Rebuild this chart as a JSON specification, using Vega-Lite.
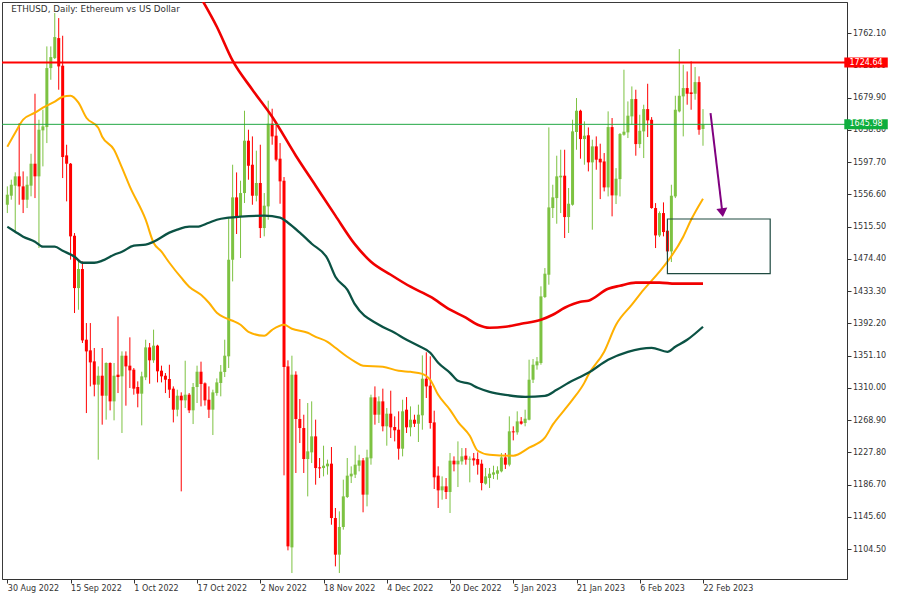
{
  "$schema": "https://vega.github.io/schema/vega-lite/v6.json",
  "width": 845,
  "height": 577,
  "autosize": {"type": "none"},
  "padding": {"left": 2, "top": 2, "right": 53, "bottom": 21},
  "background": "white",
  "config": {"view": {"stroke": "#3a3a3a", "strokeWidth": 1}, "font": "DejaVu Sans", "axis": {"labelOverlap": false, "labelBound": false, "labelFlush": false}},
  "resolve": {"axis": {"x": "independent", "y": "independent"}},
  "datasets": {
    "title": [
      {"text": "ETHUSD, Daily:  Ethereum vs US Dollar"}
    ],
    "candles": [
      {"date":"2022-08-30","open":1543.5,"high":1566.9,"low":1532.9,"close":1556.3},
      {"date":"2022-08-31","open":1555.0,"high":1575.4,"low":1549.9,"close":1569.0},
      {"date":"2022-09-01","open":1567.8,"high":1584.8,"low":1507.4,"close":1579.7},
      {"date":"2022-09-02","open":1579.7,"high":1647.6,"low":1543.5,"close":1566.9},
      {"date":"2022-09-03","open":1566.9,"high":1586.0,"low":1532.9,"close":1549.9},
      {"date":"2022-09-04","open":1549.9,"high":1579.7,"low":1539.3,"close":1569.0},
      {"date":"2022-09-05","open":1567.8,"high":1608.5,"low":1554.2,"close":1595.8},
      {"date":"2022-09-06","open":1595.8,"high":1685.0,"low":1552.0,"close":1579.7},
      {"date":"2022-09-07","open":1579.7,"high":1651.9,"low":1488.3,"close":1639.1},
      {"date":"2022-09-08","open":1638.3,"high":1664.6,"low":1592.4,"close":1643.4},
      {"date":"2022-09-09","open":1642.5,"high":1745.3,"low":1622.1,"close":1717.7},
      {"date":"2022-09-10","open":1717.7,"high":1745.3,"low":1702.8,"close":1731.7},
      {"date":"2022-09-11","open":1730.4,"high":1787.8,"low":1729.2,"close":1757.2},
      {"date":"2022-09-12","open":1755.9,"high":1781.4,"low":1690.1,"close":1719.8},
      {"date":"2022-09-13","open":1720.7,"high":1758.9,"low":1577.5,"close":1604.3},
      {"date":"2022-09-14","open":1606.4,"high":1620.0,"low":1547.8,"close":1595.8},
      {"date":"2022-09-15","open":1595.8,"high":1596.7,"low":1473.5,"close":1503.2},
      {"date":"2022-09-16","open":1504.0,"high":1507.4,"low":1405.5,"close":1437.3},
      {"date":"2022-09-17","open":1437.3,"high":1473.5,"low":1409.7,"close":1461.6},
      {"date":"2022-09-18","open":1461.6,"high":1471.3,"low":1367.3,"close":1370.6},
      {"date":"2022-09-19","open":1371.5,"high":1392.7,"low":1278.0,"close":1356.6},
      {"date":"2022-09-20","open":1357.9,"high":1392.7,"low":1312.0,"close":1342.6},
      {"date":"2022-09-21","open":1343.9,"high":1360.9,"low":1299.3,"close":1314.2},
      {"date":"2022-09-22","open":1314.2,"high":1337.5,"low":1218.6,"close":1325.6},
      {"date":"2022-09-23","open":1325.6,"high":1360.9,"low":1263.2,"close":1300.1},
      {"date":"2022-09-24","open":1300.1,"high":1342.6,"low":1269.6,"close":1341.8},
      {"date":"2022-09-25","open":1341.8,"high":1342.6,"low":1281.4,"close":1292.9},
      {"date":"2022-09-26","open":1292.9,"high":1341.8,"low":1268.7,"close":1325.6},
      {"date":"2022-09-27","open":1326.9,"high":1401.2,"low":1303.5,"close":1323.9},
      {"date":"2022-09-28","open":1324.8,"high":1356.6,"low":1252.6,"close":1351.1},
      {"date":"2022-09-29","open":1351.1,"high":1356.6,"low":1287.4,"close":1337.5},
      {"date":"2022-09-30","open":1338.4,"high":1374.5,"low":1309.9,"close":1332.4},
      {"date":"2022-10-01","open":1333.3,"high":1335.4,"low":1301.4,"close":1309.1},
      {"date":"2022-10-02","open":1311.2,"high":1318.4,"low":1285.3,"close":1302.7},
      {"date":"2022-10-03","open":1302.7,"high":1330.7,"low":1262.3,"close":1324.8},
      {"date":"2022-10-04","open":1323.5,"high":1371.5,"low":1320.0,"close":1361.7},
      {"date":"2022-10-05","open":1361.7,"high":1367.3,"low":1315.4,"close":1345.2},
      {"date":"2022-10-06","open":1345.2,"high":1384.3,"low":1342.0,"close":1363.9},
      {"date":"2022-10-07","open":1363.9,"high":1365.0,"low":1317.1,"close":1331.2},
      {"date":"2022-10-08","open":1332.0,"high":1338.4,"low":1317.1,"close":1324.8},
      {"date":"2022-10-09","open":1325.6,"high":1329.0,"low":1303.5,"close":1320.5},
      {"date":"2022-10-10","open":1321.4,"high":1339.6,"low":1297.2,"close":1307.8},
      {"date":"2022-10-11","open":1309.1,"high":1312.0,"low":1266.1,"close":1282.3},
      {"date":"2022-10-12","open":1282.3,"high":1307.8,"low":1273.8,"close":1300.1},
      {"date":"2022-10-13","open":1300.1,"high":1304.4,"low":1178.2,"close":1294.2},
      {"date":"2022-10-14","open":1294.2,"high":1344.7,"low":1284.4,"close":1301.4},
      {"date":"2022-10-15","open":1301.4,"high":1303.5,"low":1278.0,"close":1281.5},
      {"date":"2022-10-16","open":1281.5,"high":1316.3,"low":1264.0,"close":1311.2},
      {"date":"2022-10-17","open":1311.2,"high":1338.4,"low":1290.8,"close":1330.7},
      {"date":"2022-10-18","open":1330.7,"high":1343.5,"low":1286.5,"close":1315.0},
      {"date":"2022-10-19","open":1315.9,"high":1317.1,"low":1287.4,"close":1294.2},
      {"date":"2022-10-20","open":1295.0,"high":1312.0,"low":1271.7,"close":1282.3},
      {"date":"2022-10-21","open":1282.3,"high":1307.8,"low":1250.0,"close":1304.4},
      {"date":"2022-10-22","open":1303.5,"high":1322.2,"low":1300.1,"close":1317.1},
      {"date":"2022-10-23","open":1316.3,"high":1339.2,"low":1299.3,"close":1330.7},
      {"date":"2022-10-24","open":1330.3,"high":1371.5,"low":1323.9,"close":1351.1},
      {"date":"2022-10-25","open":1350.3,"high":1526.6,"low":1335.4,"close":1473.4},
      {"date":"2022-10-26","open":1473.4,"high":1594.5,"low":1445.8,"close":1552.9},
      {"date":"2022-10-27","open":1552.9,"high":1584.7,"low":1506.2,"close":1528.7},
      {"date":"2022-10-28","open":1528.7,"high":1574.1,"low":1475.6,"close":1558.4},
      {"date":"2022-10-29","open":1558.4,"high":1663.3,"low":1545.7,"close":1625.1},
      {"date":"2022-10-30","open":1625.1,"high":1639.1,"low":1575.4,"close":1593.2},
      {"date":"2022-10-31","open":1594.5,"high":1630.6,"low":1543.5,"close":1555.0},
      {"date":"2022-11-01","open":1555.0,"high":1612.4,"low":1547.8,"close":1571.2},
      {"date":"2022-11-02","open":1571.2,"high":1620.0,"low":1501.1,"close":1513.8},
      {"date":"2022-11-03","open":1513.8,"high":1558.4,"low":1503.2,"close":1542.3},
      {"date":"2022-11-04","open":1541.4,"high":1676.1,"low":1524.4,"close":1646.8},
      {"date":"2022-11-05","open":1646.8,"high":1665.9,"low":1620.0,"close":1630.6},
      {"date":"2022-11-06","open":1631.5,"high":1645.5,"low":1598.8,"close":1600.9},
      {"date":"2022-11-07","open":1602.2,"high":1622.1,"low":1544.8,"close":1573.3},
      {"date":"2022-11-08","open":1574.1,"high":1578.8,"low":1198.6,"close":1336.7},
      {"date":"2022-11-09","open":1337.5,"high":1345.2,"low":1103.0,"close":1108.1},
      {"date":"2022-11-10","open":1106.8,"high":1351.1,"low":1074.1,"close":1326.9},
      {"date":"2022-11-11","open":1326.9,"high":1331.2,"low":1201.6,"close":1270.4},
      {"date":"2022-11-12","open":1270.4,"high":1295.9,"low":1239.8,"close":1258.9},
      {"date":"2022-11-13","open":1258.9,"high":1275.9,"low":1201.6,"close":1219.4},
      {"date":"2022-11-14","open":1219.4,"high":1290.8,"low":1171.8,"close":1229.2},
      {"date":"2022-11-15","open":1227.9,"high":1292.9,"low":1214.3,"close":1248.3},
      {"date":"2022-11-16","open":1248.3,"high":1269.6,"low":1186.7,"close":1207.9},
      {"date":"2022-11-17","open":1208.8,"high":1220.7,"low":1195.2,"close":1207.5},
      {"date":"2022-11-18","open":1207.9,"high":1236.4,"low":1197.3,"close":1210.9},
      {"date":"2022-11-19","open":1210.1,"high":1218.6,"low":1199.5,"close":1213.5},
      {"date":"2022-11-20","open":1213.5,"high":1234.7,"low":1135.7,"close":1144.2},
      {"date":"2022-11-21","open":1144.2,"high":1157.0,"low":1082.6,"close":1097.5},
      {"date":"2022-11-22","open":1097.5,"high":1152.7,"low":1074.1,"close":1132.8},
      {"date":"2022-11-23","open":1132.8,"high":1193.1,"low":1129.4,"close":1171.8},
      {"date":"2022-11-24","open":1171.0,"high":1220.7,"low":1169.7,"close":1198.2},
      {"date":"2022-11-25","open":1197.3,"high":1210.1,"low":1188.8,"close":1200.7},
      {"date":"2022-11-26","open":1199.5,"high":1236.4,"low":1195.2,"close":1212.2},
      {"date":"2022-11-27","open":1210.9,"high":1224.9,"low":1203.7,"close":1217.7},
      {"date":"2022-11-28","open":1217.7,"high":1220.7,"low":1151.5,"close":1174.0},
      {"date":"2022-11-29","open":1174.0,"high":1231.3,"low":1159.1,"close":1221.5},
      {"date":"2022-11-30","open":1220.3,"high":1301.4,"low":1212.2,"close":1298.0},
      {"date":"2022-12-01","open":1298.0,"high":1312.0,"low":1263.2,"close":1275.9},
      {"date":"2022-12-02","open":1275.9,"high":1299.3,"low":1265.3,"close":1292.9},
      {"date":"2022-12-03","open":1292.9,"high":1309.1,"low":1254.7,"close":1261.1},
      {"date":"2022-12-04","open":1261.1,"high":1284.4,"low":1236.4,"close":1277.2},
      {"date":"2022-12-05","open":1277.2,"high":1306.5,"low":1246.2,"close":1259.8},
      {"date":"2022-12-06","open":1260.2,"high":1273.8,"low":1241.9,"close":1256.0},
      {"date":"2022-12-07","open":1256.8,"high":1280.2,"low":1218.6,"close":1232.6},
      {"date":"2022-12-08","open":1232.6,"high":1295.0,"low":1222.8,"close":1280.2},
      {"date":"2022-12-09","open":1282.3,"high":1298.4,"low":1252.6,"close":1259.8},
      {"date":"2022-12-10","open":1259.8,"high":1286.5,"low":1248.3,"close":1269.5},
      {"date":"2022-12-11","open":1269.5,"high":1275.9,"low":1260.2,"close":1264.4},
      {"date":"2022-12-12","open":1264.4,"high":1288.7,"low":1241.1,"close":1275.9},
      {"date":"2022-12-13","open":1275.1,"high":1351.5,"low":1256.8,"close":1321.8},
      {"date":"2022-12-14","open":1321.8,"high":1355.4,"low":1297.2,"close":1312.0},
      {"date":"2022-12-15","open":1312.9,"high":1350.3,"low":1258.1,"close":1265.3},
      {"date":"2022-12-16","open":1266.1,"high":1281.0,"low":1181.2,"close":1196.1},
      {"date":"2022-12-17","open":1198.2,"high":1210.1,"low":1157.0,"close":1179.5},
      {"date":"2022-12-18","open":1179.5,"high":1197.3,"low":1167.6,"close":1184.6},
      {"date":"2022-12-19","open":1184.6,"high":1195.2,"low":1168.4,"close":1177.4},
      {"date":"2022-12-20","open":1177.4,"high":1227.1,"low":1150.6,"close":1217.3},
      {"date":"2022-12-21","open":1217.3,"high":1222.8,"low":1203.7,"close":1212.6},
      {"date":"2022-12-22","open":1212.6,"high":1241.9,"low":1183.7,"close":1217.3},
      {"date":"2022-12-23","open":1216.4,"high":1233.4,"low":1212.2,"close":1222.8},
      {"date":"2022-12-24","open":1223.7,"high":1233.4,"low":1212.2,"close":1218.6},
      {"date":"2022-12-25","open":1218.6,"high":1222.8,"low":1189.7,"close":1219.8},
      {"date":"2022-12-26","open":1220.3,"high":1227.1,"low":1210.9,"close":1217.7},
      {"date":"2022-12-27","open":1219.4,"high":1227.9,"low":1199.5,"close":1212.2},
      {"date":"2022-12-28","open":1213.5,"high":1218.6,"low":1179.5,"close":1188.8},
      {"date":"2022-12-29","open":1188.0,"high":1208.0,"low":1186.7,"close":1197.3},
      {"date":"2022-12-30","open":1195.2,"high":1208.0,"low":1182.5,"close":1200.7},
      {"date":"2022-12-31","open":1199.5,"high":1210.9,"low":1193.9,"close":1202.4},
      {"date":"2023-01-01","open":1200.7,"high":1210.1,"low":1193.1,"close":1205.0},
      {"date":"2023-01-02","open":1203.7,"high":1227.1,"low":1202.4,"close":1221.5},
      {"date":"2023-01-03","open":1221.5,"high":1227.1,"low":1206.7,"close":1212.2},
      {"date":"2023-01-04","open":1212.2,"high":1273.8,"low":1210.1,"close":1254.7},
      {"date":"2023-01-05","open":1254.7,"high":1261.1,"low":1243.2,"close":1253.4},
      {"date":"2023-01-06","open":1253.4,"high":1280.2,"low":1250.4,"close":1267.4},
      {"date":"2023-01-07","open":1267.4,"high":1272.9,"low":1263.2,"close":1264.4},
      {"date":"2023-01-08","open":1265.3,"high":1282.3,"low":1261.1,"close":1270.8},
      {"date":"2023-01-09","open":1269.5,"high":1346.0,"low":1268.7,"close":1320.5},
      {"date":"2023-01-10","open":1320.5,"high":1346.9,"low":1316.3,"close":1339.6},
      {"date":"2023-01-11","open":1338.8,"high":1349.4,"low":1333.3,"close":1343.9},
      {"date":"2023-01-12","open":1341.8,"high":1439.5,"low":1339.6,"close":1426.7},
      {"date":"2023-01-13","open":1425.9,"high":1462.8,"low":1424.6,"close":1455.6},
      {"date":"2023-01-14","open":1454.3,"high":1642.1,"low":1441.6,"close":1540.1},
      {"date":"2023-01-15","open":1539.3,"high":1569.0,"low":1526.6,"close":1552.9},
      {"date":"2023-01-16","open":1552.0,"high":1606.0,"low":1519.3,"close":1579.7},
      {"date":"2023-01-17","open":1578.4,"high":1613.6,"low":1532.9,"close":1580.5},
      {"date":"2023-01-18","open":1580.5,"high":1613.6,"low":1501.1,"close":1527.8},
      {"date":"2023-01-19","open":1527.8,"high":1564.8,"low":1507.5,"close":1544.8},
      {"date":"2023-01-20","open":1543.5,"high":1651.9,"low":1542.3,"close":1637.0},
      {"date":"2023-01-21","open":1636.2,"high":1679.5,"low":1613.6,"close":1663.3},
      {"date":"2023-01-22","open":1663.3,"high":1664.6,"low":1602.2,"close":1627.2},
      {"date":"2023-01-23","open":1627.2,"high":1649.8,"low":1594.5,"close":1631.5},
      {"date":"2023-01-24","open":1632.0,"high":1642.1,"low":1586.0,"close":1597.5},
      {"date":"2023-01-25","open":1597.5,"high":1626.4,"low":1511.7,"close":1617.9},
      {"date":"2023-01-26","open":1617.9,"high":1630.6,"low":1588.1,"close":1600.9},
      {"date":"2023-01-27","open":1602.1,"high":1621.3,"low":1550.7,"close":1597.5},
      {"date":"2023-01-28","open":1598.7,"high":1609.4,"low":1560.5,"close":1565.6},
      {"date":"2023-01-29","open":1565.6,"high":1662.5,"low":1554.1,"close":1642.5},
      {"date":"2023-01-30","open":1642.5,"high":1654.0,"low":1528.7,"close":1555.4},
      {"date":"2023-01-31","open":1555.4,"high":1590.2,"low":1544.4,"close":1576.7},
      {"date":"2023-02-01","open":1576.2,"high":1634.9,"low":1554.1,"close":1633.6},
      {"date":"2023-02-02","open":1632.7,"high":1715.6,"low":1631.5,"close":1636.6},
      {"date":"2023-02-03","open":1635.7,"high":1675.2,"low":1628.5,"close":1657.0},
      {"date":"2023-02-04","open":1656.1,"high":1694.3,"low":1645.5,"close":1678.2},
      {"date":"2023-02-05","open":1678.2,"high":1690.1,"low":1606.0,"close":1620.8},
      {"date":"2023-02-06","open":1620.8,"high":1658.2,"low":1615.7,"close":1637.8},
      {"date":"2023-02-07","open":1637.0,"high":1671.0,"low":1603.0,"close":1665.4},
      {"date":"2023-02-08","open":1665.4,"high":1697.7,"low":1629.8,"close":1651.0},
      {"date":"2023-02-09","open":1651.8,"high":1655.2,"low":1538.4,"close":1539.3},
      {"date":"2023-02-10","open":1539.3,"high":1545.6,"low":1488.3,"close":1504.4},
      {"date":"2023-02-11","open":1504.4,"high":1535.0,"low":1502.3,"close":1532.9},
      {"date":"2023-02-12","open":1532.9,"high":1546.5,"low":1503.2,"close":1508.7},
      {"date":"2023-02-13","open":1510.4,"high":1511.0,"low":1480.0,"close":1484.0},
      {"date":"2023-02-14","open":1484.0,"high":1569.0,"low":1470.5,"close":1555.0},
      {"date":"2023-02-15","open":1554.1,"high":1682.4,"low":1552.0,"close":1664.6},
      {"date":"2023-02-16","open":1662.5,"high":1741.9,"low":1661.2,"close":1682.4},
      {"date":"2023-02-17","open":1681.6,"high":1721.9,"low":1630.6,"close":1692.2},
      {"date":"2023-02-18","open":1692.2,"high":1713.4,"low":1671.0,"close":1685.0},
      {"date":"2023-02-19","open":1686.7,"high":1726.2,"low":1664.6,"close":1684.6},
      {"date":"2023-02-20","open":1685.0,"high":1719.0,"low":1677.3,"close":1699.8},
      {"date":"2023-02-21","open":1699.8,"high":1707.1,"low":1632.7,"close":1639.1},
      {"date":"2023-02-22","open":1640.0,"high":1665.4,"low":1618.7,"close":1645.98}
    ],
    "ma": [
      {"date":"2022-08-30","line":"MA fast","value":1617.5},
      {"date":"2022-09-01","line":"MA fast","value":1635.3},
      {"date":"2022-09-03","line":"MA fast","value":1651.9},
      {"date":"2022-09-06","line":"MA fast","value":1660.8},
      {"date":"2022-09-08","line":"MA fast","value":1667.2},
      {"date":"2022-09-11","line":"MA fast","value":1674.9},
      {"date":"2022-09-13","line":"MA fast","value":1681.2},
      {"date":"2022-09-15","line":"MA fast","value":1682.5},
      {"date":"2022-09-17","line":"MA fast","value":1673.6},
      {"date":"2022-09-19","line":"MA fast","value":1654.4},
      {"date":"2022-09-22","line":"MA fast","value":1641.7},
      {"date":"2022-09-23","line":"MA fast","value":1630.2},
      {"date":"2022-09-26","line":"MA fast","value":1613.6},
      {"date":"2022-09-28","line":"MA fast","value":1590.7},
      {"date":"2022-09-30","line":"MA fast","value":1566.5},
      {"date":"2022-10-04","line":"MA fast","value":1524.4},
      {"date":"2022-10-06","line":"MA fast","value":1495.1},
      {"date":"2022-10-08","line":"MA fast","value":1483.6},
      {"date":"2022-10-10","line":"MA fast","value":1469.6},
      {"date":"2022-10-13","line":"MA fast","value":1450.5},
      {"date":"2022-10-15","line":"MA fast","value":1439.0},
      {"date":"2022-10-18","line":"MA fast","value":1428.8},
      {"date":"2022-10-20","line":"MA fast","value":1418.6},
      {"date":"2022-10-22","line":"MA fast","value":1405.8},
      {"date":"2022-10-24","line":"MA fast","value":1399.5},
      {"date":"2022-10-26","line":"MA fast","value":1395.6},
      {"date":"2022-10-28","line":"MA fast","value":1390.5},
      {"date":"2022-10-30","line":"MA fast","value":1381.6},
      {"date":"2022-11-03","line":"MA fast","value":1376.5},
      {"date":"2022-11-05","line":"MA fast","value":1384.1},
      {"date":"2022-11-08","line":"MA fast","value":1390.5},
      {"date":"2022-11-10","line":"MA fast","value":1385.4},
      {"date":"2022-11-14","line":"MA fast","value":1380.3},
      {"date":"2022-11-16","line":"MA fast","value":1375.2},
      {"date":"2022-11-19","line":"MA fast","value":1368.8},
      {"date":"2022-11-21","line":"MA fast","value":1361.2},
      {"date":"2022-11-24","line":"MA fast","value":1349.7},
      {"date":"2022-11-26","line":"MA fast","value":1343.3},
      {"date":"2022-11-28","line":"MA fast","value":1338.2},
      {"date":"2022-12-03","line":"MA fast","value":1336.9},
      {"date":"2022-12-07","line":"MA fast","value":1331.8},
      {"date":"2022-12-10","line":"MA fast","value":1330.5},
      {"date":"2022-12-13","line":"MA fast","value":1328.0},
      {"date":"2022-12-15","line":"MA fast","value":1320.4},
      {"date":"2022-12-17","line":"MA fast","value":1301.2},
      {"date":"2022-12-20","line":"MA fast","value":1282.1},
      {"date":"2022-12-22","line":"MA fast","value":1266.8},
      {"date":"2022-12-25","line":"MA fast","value":1249.0},
      {"date":"2022-12-27","line":"MA fast","value":1230.0},
      {"date":"2022-12-30","line":"MA fast","value":1224.9},
      {"date":"2023-01-05","line":"MA fast","value":1223.7},
      {"date":"2023-01-09","line":"MA fast","value":1233.9},
      {"date":"2023-01-13","line":"MA fast","value":1246.6},
      {"date":"2023-01-15","line":"MA fast","value":1263.2},
      {"date":"2023-01-18","line":"MA fast","value":1282.4},
      {"date":"2023-01-20","line":"MA fast","value":1295.1},
      {"date":"2023-01-23","line":"MA fast","value":1316.8},
      {"date":"2023-01-24","line":"MA fast","value":1326.9},
      {"date":"2023-01-28","line":"MA fast","value":1356.2},
      {"date":"2023-01-31","line":"MA fast","value":1390.5},
      {"date":"2023-02-04","line":"MA fast","value":1416.1},
      {"date":"2023-02-07","line":"MA fast","value":1435.2},
      {"date":"2023-02-11","line":"MA fast","value":1458.2},
      {"date":"2023-02-13","line":"MA fast","value":1470.9},
      {"date":"2023-02-17","line":"MA fast","value":1502.8},
      {"date":"2023-02-19","line":"MA fast","value":1524.4},
      {"date":"2023-02-22","line":"MA fast","value":1551.2},
      {"date":"2022-08-30","line":"MA medium","value":1515.5},
      {"date":"2022-09-01","line":"MA medium","value":1509.1},
      {"date":"2022-09-03","line":"MA medium","value":1502.8},
      {"date":"2022-09-06","line":"MA medium","value":1496.4},
      {"date":"2022-09-08","line":"MA medium","value":1490.0},
      {"date":"2022-09-11","line":"MA medium","value":1490.0},
      {"date":"2022-09-13","line":"MA medium","value":1484.9},
      {"date":"2022-09-16","line":"MA medium","value":1477.3},
      {"date":"2022-09-18","line":"MA medium","value":1469.6},
      {"date":"2022-09-21","line":"MA medium","value":1469.6},
      {"date":"2022-09-23","line":"MA medium","value":1472.2},
      {"date":"2022-09-26","line":"MA medium","value":1479.8},
      {"date":"2022-09-28","line":"MA medium","value":1483.6},
      {"date":"2022-10-01","line":"MA medium","value":1491.3},
      {"date":"2022-10-04","line":"MA medium","value":1492.6},
      {"date":"2022-10-06","line":"MA medium","value":1496.4},
      {"date":"2022-10-10","line":"MA medium","value":1507.9},
      {"date":"2022-10-12","line":"MA medium","value":1511.7},
      {"date":"2022-10-15","line":"MA medium","value":1515.5},
      {"date":"2022-10-17","line":"MA medium","value":1515.5},
      {"date":"2022-10-20","line":"MA medium","value":1520.6},
      {"date":"2022-10-22","line":"MA medium","value":1524.4},
      {"date":"2022-10-25","line":"MA medium","value":1527.0},
      {"date":"2022-10-28","line":"MA medium","value":1528.3},
      {"date":"2022-11-03","line":"MA medium","value":1529.6},
      {"date":"2022-11-07","line":"MA medium","value":1527.0},
      {"date":"2022-11-09","line":"MA medium","value":1520.6},
      {"date":"2022-11-12","line":"MA medium","value":1507.9},
      {"date":"2022-11-15","line":"MA medium","value":1493.8},
      {"date":"2022-11-19","line":"MA medium","value":1474.7},
      {"date":"2022-11-21","line":"MA medium","value":1451.8},
      {"date":"2022-11-24","line":"MA medium","value":1435.2},
      {"date":"2022-11-26","line":"MA medium","value":1416.1},
      {"date":"2022-12-02","line":"MA medium","value":1390.6},
      {"date":"2022-12-06","line":"MA medium","value":1380.3},
      {"date":"2022-12-09","line":"MA medium","value":1371.4},
      {"date":"2022-12-12","line":"MA medium","value":1363.7},
      {"date":"2022-12-15","line":"MA medium","value":1354.8},
      {"date":"2022-12-17","line":"MA medium","value":1342.1},
      {"date":"2022-12-20","line":"MA medium","value":1329.3},
      {"date":"2022-12-22","line":"MA medium","value":1319.1},
      {"date":"2022-12-25","line":"MA medium","value":1315.3},
      {"date":"2022-12-27","line":"MA medium","value":1310.2},
      {"date":"2022-12-30","line":"MA medium","value":1305.1},
      {"date":"2023-01-03","line":"MA medium","value":1301.2},
      {"date":"2023-01-08","line":"MA medium","value":1298.7},
      {"date":"2023-01-13","line":"MA medium","value":1300.0},
      {"date":"2023-01-16","line":"MA medium","value":1307.6},
      {"date":"2023-01-19","line":"MA medium","value":1316.6},
      {"date":"2023-01-24","line":"MA medium","value":1329.3},
      {"date":"2023-01-29","line":"MA medium","value":1345.9},
      {"date":"2023-02-03","line":"MA medium","value":1356.1},
      {"date":"2023-02-09","line":"MA medium","value":1361.2},
      {"date":"2023-02-13","line":"MA medium","value":1356.1},
      {"date":"2023-02-15","line":"MA medium","value":1362.5},
      {"date":"2023-02-18","line":"MA medium","value":1371.4},
      {"date":"2023-02-22","line":"MA medium","value":1388.0},
      {"date":"2022-10-18","line":"MA slow","value":1807.0},
      {"date":"2022-10-22","line":"MA slow","value":1770.4},
      {"date":"2022-10-26","line":"MA slow","value":1727.1},
      {"date":"2022-10-31","line":"MA slow","value":1690.1},
      {"date":"2022-11-05","line":"MA slow","value":1655.7},
      {"date":"2022-11-11","line":"MA slow","value":1606.0},
      {"date":"2022-11-16","line":"MA slow","value":1567.8},
      {"date":"2022-11-21","line":"MA slow","value":1529.6},
      {"date":"2022-11-26","line":"MA slow","value":1492.6},
      {"date":"2022-11-30","line":"MA slow","value":1470.9},
      {"date":"2022-12-05","line":"MA slow","value":1454.3},
      {"date":"2022-12-10","line":"MA slow","value":1439.0},
      {"date":"2022-12-15","line":"MA slow","value":1426.3},
      {"date":"2022-12-20","line":"MA slow","value":1409.7},
      {"date":"2022-12-24","line":"MA slow","value":1399.5},
      {"date":"2022-12-27","line":"MA slow","value":1390.5},
      {"date":"2022-12-30","line":"MA slow","value":1386.7},
      {"date":"2023-01-03","line":"MA slow","value":1388.0},
      {"date":"2023-01-07","line":"MA slow","value":1391.8},
      {"date":"2023-01-12","line":"MA slow","value":1396.9},
      {"date":"2023-01-15","line":"MA slow","value":1403.3},
      {"date":"2023-01-18","line":"MA slow","value":1412.2},
      {"date":"2023-01-22","line":"MA slow","value":1419.9},
      {"date":"2023-01-24","line":"MA slow","value":1421.2},
      {"date":"2023-01-29","line":"MA slow","value":1436.5},
      {"date":"2023-02-01","line":"MA slow","value":1440.3},
      {"date":"2023-02-05","line":"MA slow","value":1444.2},
      {"date":"2023-02-08","line":"MA slow","value":1444.2},
      {"date":"2023-02-11","line":"MA slow","value":1444.2},
      {"date":"2023-02-15","line":"MA slow","value":1442.9},
      {"date":"2023-02-22","line":"MA slow","value":1442.9}
    ],
    "levels": [
      {"price": 1724.64, "kind": "resistance", "label": "1724.64"},
      {"price": 1645.98, "kind": "current", "label": "1645.98"}
    ],
    "zone": [
      {"start": "2023-02-13T00:00:00Z", "end": "2023-03-11T00:00:00Z", "top": 1525.3, "bottom": 1455.6}
    ],
    "arrow": [
      {"start": "2023-02-23T21:40:00Z", "startPrice": 1660.4, "end": "2023-02-26T21:40:00Z", "endPrice": 1533.5}
    ]
  },
  "layer": [
    {
      "data": {"name": "candles"},
      "mark": {"type": "rule", "strokeWidth": 1},
      "encoding": {
        "x": {"field": "date", "type": "temporal",
          "scale": {"type": "utc", "domain": [{"year":2022,"month":8,"date":29,"hours":22,"utc":true},{"year":2023,"month":3,"date":29,"hours":4,"utc":true}]},
          "axis": {"values": [
            {"year":2022,"month":8,"date":30,"utc":true},
            {"year":2022,"month":9,"date":15,"utc":true},
            {"year":2022,"month":10,"date":1,"utc":true},
            {"year":2022,"month":10,"date":17,"utc":true},
            {"year":2022,"month":11,"date":2,"utc":true},
            {"year":2022,"month":11,"date":18,"utc":true},
            {"year":2022,"month":12,"date":4,"utc":true},
            {"year":2022,"month":12,"date":20,"utc":true},
            {"year":2023,"month":1,"date":5,"utc":true},
            {"year":2023,"month":1,"date":21,"utc":true},
            {"year":2023,"month":2,"date":6,"utc":true},
            {"year":2023,"month":2,"date":22,"utc":true}],
            "format": "%-d %b %Y", "labelAlign": "left", "labelFont": "DejaVu Sans", "labelFontSize": 8, "labelColor": "#333333",
            "tickColor": "#333333", "domainColor": "#333333", "tickSize": 4, "labelPadding": 1, "title": null, "grid": false,
            "labelOverlap": false, "labelFlush": false, "labelBound": false}},
        "y": {"field": "low", "type": "quantitative",
          "scale": {"domain": [1066.5, 1801.9], "zero": false, "nice": false},
          "axis": {"orient": "right", "values": [1104.5,1145.6,1186.7,1227.8,1268.9,1310.0,1351.1,1392.2,1433.3,1474.4,1515.5,1556.6,1597.7,1638.8,1679.9,1721.0,1762.1],
            "format": ".2f", "labelFont": "DejaVu Sans", "labelFontSize": 8, "labelColor": "#333333", "tickColor": "#333333",
            "domainColor": "#333333", "tickSize": 4, "labelPadding": 1.5, "title": null, "grid": false, "labelOverlap": false,
            "labelBound": false, "labelFlush": false, "labelSeparation": 0}},
        "y2": {"field": "high"},
        "color": {"condition": {"test": "datum.close >= datum.open", "value": "#7dc242"}, "value": "#ff0000"}
      }
    },
    {
      "data": {"name": "candles"},
      "mark": {"type": "bar", "size": 3},
      "encoding": {
        "x": {"field": "date", "type": "temporal", "axis": null, "scale": {"type": "utc", "domain": [{"year":2022,"month":8,"date":29,"hours":22,"utc":true},{"year":2023,"month":3,"date":29,"hours":4,"utc":true}]}},
        "y": {"field": "open", "type": "quantitative", "axis": null, "scale": {"domain": [1066.5, 1801.9], "zero": false, "nice": false}},
        "y2": {"field": "close"},
        "color": {"condition": {"test": "datum.close >= datum.open", "value": "#7dc242"}, "value": "#ff0000"}
      }
    },
    {
      "data": {"name": "ma"},
      "mark": {"type": "line", "interpolate": "monotone", "clip": true},
      "encoding": {
        "x": {"field": "date", "type": "temporal", "axis": null, "scale": {"type": "utc", "domain": [{"year":2022,"month":8,"date":29,"hours":22,"utc":true},{"year":2023,"month":3,"date":29,"hours":4,"utc":true}]}},
        "y": {"field": "value", "type": "quantitative", "axis": null, "scale": {"domain": [1066.5, 1801.9], "zero": false, "nice": false}},
        "color": {"field": "line", "type": "nominal", "scale": {"domain": ["MA fast", "MA medium", "MA slow"], "range": ["#ffb000", "#0b5244", "#f00000"]}, "legend": null},
        "strokeWidth": {"field": "line", "type": "nominal", "scale": {"domain": ["MA fast", "MA medium", "MA slow"], "range": [2, 2.6, 2]}, "legend": null}
      }
    },
    {
      "data": {"name": "levels"},
      "mark": {"type": "rule"},
      "encoding": {
        "y": {"field": "price", "type": "quantitative", "axis": null, "scale": {"domain": [1066.5, 1801.9], "zero": false, "nice": false}},
        "color": {"condition": {"test": "datum.kind === 'resistance'", "value": "#ff0000"}, "value": "#22a844"},
        "strokeWidth": {"condition": {"test": "datum.kind === 'resistance'", "value": 2}, "value": 1}
      }
    },
    {
      "data": {"name": "zone"},
      "mark": {"type": "rect", "fillOpacity": 0, "stroke": "#1f4a40", "strokeWidth": 1.2},
      "encoding": {
        "x": {"field": "start", "type": "temporal", "axis": null, "scale": {"type": "utc", "domain": [{"year":2022,"month":8,"date":29,"hours":22,"utc":true},{"year":2023,"month":3,"date":29,"hours":4,"utc":true}]}},
        "x2": {"field": "end"},
        "y": {"field": "top", "type": "quantitative", "axis": null, "scale": {"domain": [1066.5, 1801.9], "zero": false, "nice": false}},
        "y2": {"field": "bottom"}
      }
    },
    {
      "data": {"name": "arrow"},
      "mark": {"type": "rule", "color": "#800080", "strokeWidth": 2},
      "encoding": {
        "x": {"field": "start", "type": "temporal", "axis": null, "scale": {"type": "utc", "domain": [{"year":2022,"month":8,"date":29,"hours":22,"utc":true},{"year":2023,"month":3,"date":29,"hours":4,"utc":true}]}},
        "x2": {"field": "end"},
        "y": {"field": "startPrice", "type": "quantitative", "axis": null, "scale": {"domain": [1066.5, 1801.9], "zero": false, "nice": false}},
        "y2": {"field": "endPrice"}
      }
    },
    {
      "data": {"name": "arrow"},
      "mark": {"type": "point", "shape": "M-1,-0.8H1L0,0.8Z", "filled": true, "color": "#800080", "opacity": 1, "size": 121, "angle": 353},
      "encoding": {
        "x": {"field": "end", "type": "temporal", "axis": null, "scale": {"type": "utc", "domain": [{"year":2022,"month":8,"date":29,"hours":22,"utc":true},{"year":2023,"month":3,"date":29,"hours":4,"utc":true}]}},
        "y": {"field": "endPrice", "type": "quantitative", "axis": null, "scale": {"domain": [1066.5, 1801.9], "zero": false, "nice": false}}
      }
    },
    {
      "data": {"name": "levels"},
      "mark": {"type": "rect", "yOffset": -5, "y2Offset": 5, "clip": false},
      "encoding": {
        "x": {"datum": {"year":2023,"month":3,"date":29,"hours":18,"utc":true}, "type": "temporal", "axis": null, "scale": {"type": "utc", "domain": [{"year":2022,"month":8,"date":29,"hours":22,"utc":true},{"year":2023,"month":3,"date":29,"hours":4,"utc":true}]}},
        "x2": {"datum": {"year":2023,"month":4,"date":9,"hours":18,"utc":true}},
        "y": {"field": "price", "type": "quantitative", "axis": null, "scale": {"domain": [1066.5, 1801.9], "zero": false, "nice": false}},
        "y2": {"field": "price"},
        "color": {"condition": {"test": "datum.kind === 'resistance'", "value": "#ff0000"}, "value": "#0fae3e"}
      }
    },
    {
      "data": {"name": "levels"},
      "mark": {"type": "text", "color": "white", "font": "DejaVu Sans", "fontSize": 8, "align": "center", "baseline": "middle", "clip": false},
      "encoding": {
        "x": {"datum": {"year":2023,"month":4,"date":4,"hours":6,"utc":true}, "type": "temporal", "axis": null, "scale": {"type": "utc", "domain": [{"year":2022,"month":8,"date":29,"hours":22,"utc":true},{"year":2023,"month":3,"date":29,"hours":4,"utc":true}]}},
        "y": {"field": "price", "type": "quantitative", "axis": null, "scale": {"domain": [1066.5, 1801.9], "zero": false, "nice": false}},
        "text": {"field": "label"}
      }
    },
    {
      "data": {"name": "title"},
      "mark": {"type": "text", "color": "#333333", "font": "DejaVu Sans", "fontSize": 8.8, "align": "left", "baseline": "alphabetic"},
      "encoding": {
        "x": {"datum": {"year":2022,"month":8,"date":31,"utc":true}, "type": "temporal", "axis": null, "scale": {"type": "utc", "domain": [{"year":2022,"month":8,"date":29,"hours":22,"utc":true},{"year":2023,"month":3,"date":29,"hours":4,"utc":true}]}},
        "y": {"datum": 1788.8, "type": "quantitative", "axis": null, "scale": {"domain": [1066.5, 1801.9], "zero": false, "nice": false}},
        "text": {"field": "text"}
      }
    }
  ]
}
